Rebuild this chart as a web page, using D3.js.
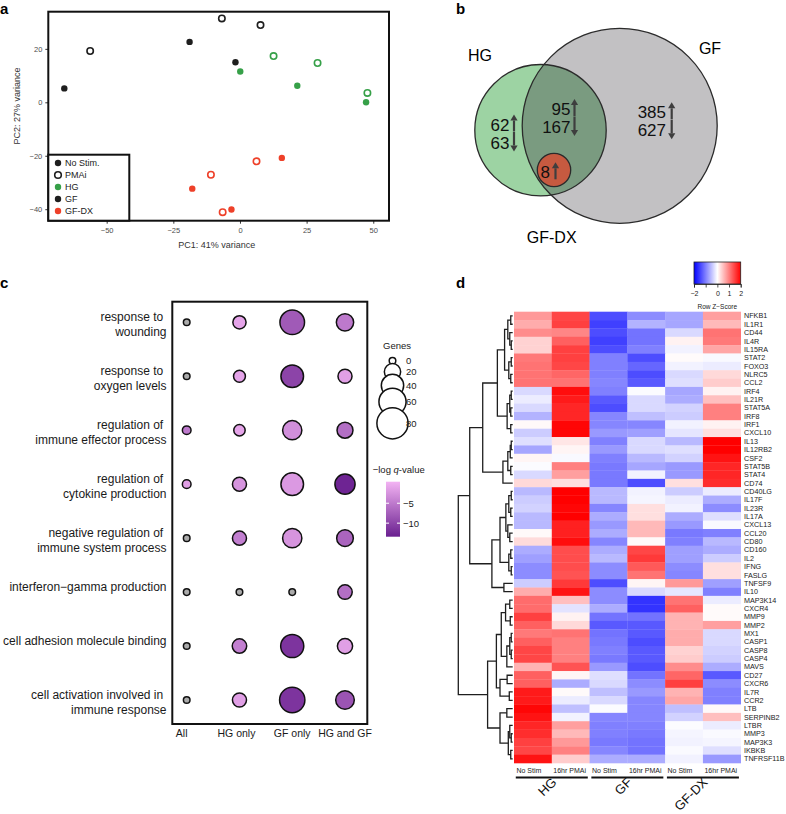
<!DOCTYPE html>
<html>
<head>
<meta charset="utf-8">
<script src="https://cdn.jsdelivr.net/npm/d3@7"></script>
<style>
body { margin: 0; background: #fff; }
svg { font-family: "Liberation Sans", Arial, Helvetica, sans-serif; }
</style>
</head>
<body>
<div id="fig"></div>
<script>
// ---------------- data ----------------
// a: PCA
var pcaCell = ["GF","GF","GF","GF","GF","GF","HG","HG","HG","HG","HG","HG","GF-DX","GF-DX","GF-DX","GF-DX","GF-DX","GF-DX"];
var pcaStim = ["No Stim","No Stim","No Stim","PMAi","PMAi","PMAi","No Stim","No Stim","No Stim","PMAi","PMAi","PMAi","No Stim","No Stim","No Stim","PMAi","PMAi","PMAi"];
var pcaPC1 = [-65.9, -18.9, -1.7, -56.2, -6.8, 7.7, 0.1, 21.5, 47.3, 12.6, 29.1, 47.8, 15.7, -17.9, -3.2, 6.2, -10.9, -6.5];
var pcaPC2 = [5.2, 22.6, 15.0, 19.2, 31.4, 28.9, 11.5, 6.2, 0.0, 17.3, 14.7, 3.5, -20.8, -32.3, -40.1, -22.1, -27.1, -41.1];
var pcaXTicks = [-50, -25, 0, 25, 50];
var pcaYTicks = [-40, -20, 0, 20];
var pcaLegend = ["No Stim.", "PMAi", "HG", "GF", "GF-DX"];

// b: Venn counts
var vennSets = ["HG", "GF", "GF-DX"];
var vennHGonly = [62, 63];
var vennBoth = [95, 167];
var vennGFonly = [385, 627];
var vennDX = [8];

// c: GO terms
var goTerms = ["response to \nwounding", "response to \noxygen levels", "regulation of \nimmune effector process",
  "regulation of \ncytokine production", "negative regulation of \nimmune system process",
  "interferon\u2212gamma production", "cell adhesion molecule binding", "cell activation involved in \nimmune response"];
var goCols = ["All", "HG only", "GF only", "HG and GF"];
var goGenes = [
  [0, 12, 49, 23],
  [0, 9, 41, 14],
  [3, 8, 29, 19],
  [3, 14, 41, 32],
  [0, 14, 29, 21],
  [0, 0, 0, 15],
  [0, 15, 43, 17],
  [0, 14, 52, 27]];
var goQ = [
  [null, -1, -8, -5],
  [null, -1, -10, -1.5],
  [-5, -1, -3, -6],
  [-1.5, -2.5, -2, -13],
  [null, -4.5, -2.5, -7],
  [null, null, null, -6],
  [null, -4.5, -11.5, -1.5],
  [null, -1.5, -11.5, -8.5]];
var goSizeTicks = [0, 20, 40, 60, 80];
var goColorTicks = [-5, -10];

// d: heatmap
var heatCols = ["No Stim", "16hr PMAi", "No Stim ", "16hr PMAi ", "No Stim  ", "16hr PMAi  "];
var heatGroups = ["HG", "GF", "GF-DX"];
var heatGenes = ["NFKB1","IL1R1","CD44","IL4R","IL15RA","STAT2","FOXO3","NLRC5","CCL2","IRF4","IL21R","STAT5A","IRF8","IRF1","CXCL10",
  "IL13","IL12RB2","CSF2","STAT5B","STAT4","CD74","CD40LG","IL17F","IL23R","IL17A","CXCL13","CCL20","CD80","CD160","IL2","IFNG","FASLG",
  "TNFSF9","IL10","MAP3K14","CXCR4","MMP9","MMP2","MX1","CASP1","CASP8","CASP4","MAVS","CD27","CXCR6","IL7R","CCR2","LTB","SERPINB2",
  "LTBR","MMP3","MAP3K3","IKBKB","TNFRSF11B"];
var heatZ = [
  [0.8, 1.45, -1.4, -0.9, -0.7, 0.75],
  [0.65, 1.5, -1.5, -0.6, -0.7, 0.55],
  [0.9, 0.95, -1.4, -1.1, -0.3, 1.1],
  [0.35, 1.25, -1.5, -1.1, 0.1, 1.05],
  [0.35, 1.5, -1.4, -1.0, -0.1, 0.7],
  [1.05, 1.5, -1.0, -1.4, 0.03, -0.05],
  [1.1, 1.45, -1.0, -1.2, -0.1, -0.15],
  [1.1, 1.2, -1.0, -1.4, -0.3, 0.3],
  [1.1, 1.1, -0.95, -1.3, -0.25, 0.4],
  [-0.3, 1.9, -1.0, -0.03, -0.7, 0.1],
  [-0.15, 1.8, -1.3, -0.3, -0.65, 0.5],
  [-0.3, 1.7, -1.4, -0.3, -0.35, 1.0],
  [-0.6, 1.7, -0.95, -0.5, -0.4, 1.0],
  [0.05, 1.95, -0.95, -0.95, -0.1, 0.1],
  [-0.4, 1.95, -0.8, -0.75, -0.2, 0.25],
  [-0.25, 0.2, -1.0, -0.3, -0.55, 2.0],
  [-0.7, 0.08, -0.8, -0.3, -0.25, 2.0],
  [0.08, -0.05, -1.0, -0.55, -0.35, 1.85],
  [-0.03, 1.0, -1.05, -0.7, -0.8, 1.7],
  [-0.3, 0.75, -1.05, -0.1, -0.8, 1.7],
  [0.3, 0.25, -1.05, -1.4, 0.25, 1.65],
  [-0.55, 2.0, -0.55, -0.1, -0.4, -0.15],
  [-0.4, 2.0, -0.55, -0.08, -0.15, -0.65],
  [-0.35, 1.95, -0.95, 0.25, -0.1, -0.9],
  [-0.55, 2.0, -0.65, 0.25, -0.65, -0.25],
  [-0.55, 1.75, -0.8, 0.55, -0.8, -0.05],
  [0.05, 1.75, -0.65, 0.55, -1.05, -1.0],
  [0.28, 1.9, -0.95, 0.05, -1.0, -0.55],
  [-0.65, 1.4, -0.65, 1.45, -0.75, -0.65],
  [-0.75, 1.4, -0.55, 1.55, -0.75, -0.4],
  [-0.9, 1.4, -0.9, 1.3, -0.9, 0.25],
  [-0.9, 1.35, -0.9, 1.1, -0.95, 0.25],
  [-0.4, 1.55, -1.4, 0.08, 0.8, -0.75],
  [0.65, 1.85, -0.9, -0.3, -0.2, -1.0],
  [1.15, 0.5, -0.9, -1.6, 1.1, -0.15],
  [1.15, -0.22, -0.65, -1.6, 1.25, 0.04],
  [1.5, 0.1, -1.1, -1.1, 0.6, 0.04],
  [1.25, 0.3, -1.3, -1.3, 0.6, 0.75],
  [1.05, 1.1, -1.1, -1.3, 0.65, -0.3],
  [1.25, 1.0, -1.05, -1.4, 0.65, -0.3],
  [1.45, 1.0, -1.0, -1.3, 0.35, -0.35],
  [1.45, 1.0, -1.05, -1.3, 0.4, -0.4],
  [0.6, 1.35, -0.8, -1.4, 0.9, -0.65],
  [1.25, 0.08, -0.25, -1.1, 1.2, -1.3],
  [1.25, -0.65, -0.3, -0.9, 1.5, -0.9],
  [1.8, 0.04, -0.5, -0.8, 0.6, -1.0],
  [1.8, -0.15, -0.3, -0.95, 0.7, -1.0],
  [1.95, -0.5, -0.03, -0.95, -0.5, 0.05],
  [1.85, -0.1, -0.95, -0.95, -0.35, 0.5],
  [1.7, 0.75, -1.0, -1.0, -0.02, -0.15],
  [1.65, 0.55, -1.0, -1.05, -0.08, -0.04],
  [1.5, 0.8, -1.05, -1.1, -0.1, -0.08],
  [1.45, 1.0, -0.95, -1.1, -0.04, -0.25],
  [1.85, 0.4, -0.65, -0.65, -0.1, -0.8]];
// dendrogram: [height, left, right]
var dendroTree =
[55.7,
  [44,
    [30.7,
      [15.7,
        [8.3,
          [5, [2, "NFKB1", "IL1R1"], [3, "CD44", [1.5, "IL4R", "IL15RA"]]],
          [4, [1.5, "STAT2", "FOXO3"], [2, "NLRC5", "CCL2"]]],
        [5.7,
          [3, [1.5, "IRF4", "IL21R"], [2, "STAT5A", "IRF8"]],
          [2, "IRF1", "CXCL10"]]],
      [10,
        [5, [2.5, [1.5, "IL13", "IL12RB2"], "CSF2"], [2, "STAT5B", "STAT4"]],
        "CD74"]],
    [21.3,
      [13,
        [7, [4, [1.5, "CD40LG", "IL17F"], [2, "IL23R", "IL17A"]], [5, "CXCL13", [3, "CCL20", "CD80"]]],
        [4, [2, "CD160", "IL2"], [1.5, "IFNG", "FASLG"]]],
      [9, "TNFSF9", "IL10"]]],
  [25.7,
    [16.7,
      [11.7,
        [7.3, [3, "MAP3K14", "CXCR4"], [2.5, "MMP9", "MMP2"]],
        [6, [3, [1.5, "MX1", "CASP1"], [1.5, "CASP8", "CASP4"]], "MAVS"]],
      [13, [5.7, "CD27", "CXCR6"], [3.5, "IL7R", "CCR2"]]],
    [13,
      [6, "LTB", "SERPINB2"],
      [4.5, [3, "LTBR", [1.5, "MMP3", "MAP3K3"]], [2, "IKBKB", "TNFRSF11B"]]]]];
var zTicks = [-2, -1, 0, 1, 2];

// ---------------- drawing ----------------
var minus = function(d) { return d < 0 ? "\u2212" + Math.abs(d) : "" + d; };

var svg = d3.select("#fig").append("svg")
    .attr("width", 786).attr("height", 814);

// panel letters
[["a", 0, 14], ["b", 456, 14], ["c", 0, 288], ["d", 456, 288]].forEach(function(p) {
    svg.append("text").attr("x", p[1]).attr("y", p[2])
        .attr("font-size", "15px").attr("font-weight", "bold").text(p[0]);
});

// ===== a: PCA =====
var pca = {left: 48.3, right: 389, top: 11.7, bottom: 220.7};
var xPca = d3.scaleLinear().domain([-71.9, 55.9]).range([pca.left, pca.right]);
var yPca = d3.scaleLinear().domain([-44.3, 33.9]).range([pca.bottom, pca.top]);
var pcaColour = d3.scaleOrdinal().domain(["GF", "HG", "GF-DX"]).range(["#1e1e1e", "#36a048", "#ee4029"]);

var gA = svg.append("g");
var xAxA = gA.append("g").attr("transform", "translate(0," + pca.bottom + ")")
    .call(d3.axisBottom(xPca).tickValues(pcaXTicks).tickSize(3).tickFormat(minus));
var yAxA = gA.append("g").attr("transform", "translate(" + pca.left + ",0)")
    .call(d3.axisLeft(yPca).tickValues(pcaYTicks).tickSize(3).tickFormat(minus));
[xAxA, yAxA].forEach(function(ax) {
    ax.select(".domain").remove();
    ax.selectAll("line").attr("stroke", "#333");
    ax.selectAll("text").attr("font-size", "7.5px").attr("fill", "#4d4d4d")
        .attr("font-family", "Liberation Sans, Arial, sans-serif");
});
xAxA.selectAll("text").attr("dy", "0.9em");

gA.selectAll("circle.pt").data(pcaPC1).enter().append("circle")
    .attr("class", "pt")
    .attr("cx", function(d) { return xPca(d); })
    .attr("cy", function(d, i) { return yPca(pcaPC2[i]); })
    .attr("r", function(d, i) { return pcaStim[i] == "PMAi" ? 3.2 : 3.2; })
    .attr("fill", function(d, i) { return pcaStim[i] == "PMAi" ? "#fff" : pcaColour(pcaCell[i]); })
    .attr("stroke", function(d, i) { return pcaStim[i] == "PMAi" ? pcaColour(pcaCell[i]) : "none"; })
    .attr("stroke-width", 1.6);

gA.append("rect").attr("x", pca.left).attr("y", pca.top)
    .attr("width", pca.right - pca.left).attr("height", pca.bottom - pca.top)
    .attr("fill", "none").attr("stroke", "#111").attr("stroke-width", 2);

gA.append("text").attr("x", (pca.left + pca.right) / 2 - 2).attr("y", 248)
    .attr("text-anchor", "middle").attr("font-size", "9px").attr("fill", "#333")
    .text("PC1: 41% variance");
gA.append("text").attr("transform", "translate(20,106) rotate(-90)")
    .attr("text-anchor", "middle").attr("font-size", "9px").attr("fill", "#333")
    .text("PC2: 27% variance");

// legend
var legA = gA.append("g");
legA.append("rect").attr("x", pca.left).attr("y", 154.7).attr("width", 81).attr("height", 66)
    .attr("fill", "#fff").attr("stroke", "#111").attr("stroke-width", 2);
var legFill = ["#1e1e1e", "#fff", pcaColour("HG"), pcaColour("GF"), pcaColour("GF-DX")];
var legStroke = ["none", "#1e1e1e", "none", "none", "none"];
var legItem = legA.selectAll("g.li").data(pcaLegend).enter().append("g")
    .attr("transform", function(d, i) { return "translate(58," + (163 + i * 12) + ")"; });
legItem.append("circle")
    .attr("r", function(d, i) { return i == 1 ? 3.3 : 3.2; })
    .attr("fill", function(d, i) { return legFill[i]; })
    .attr("stroke", function(d, i) { return legStroke[i]; })
    .attr("stroke-width", 1.6);
legItem.append("text").attr("x", 7).attr("y", 3.2).attr("font-size", "9px").attr("fill", "#222")
    .text(function(d) { return d; });

// ===== b: Venn =====
var gB = svg.append("g");
var cGF = {x: 619.7, y: 125.8, r: 97.5};
var cHG = {x: 540.5, y: 130.2, r: 65.7};
var cDX = {x: 554, y: 170, r: 16.7};
var defs = svg.append("defs");
defs.append("clipPath").attr("id", "hgClip").append("circle")
    .attr("cx", cHG.x).attr("cy", cHG.y).attr("r", cHG.r);
gB.append("circle").attr("cx", cGF.x).attr("cy", cGF.y).attr("r", cGF.r).attr("fill", "#c2c1c3");
gB.append("circle").attr("cx", cHG.x).attr("cy", cHG.y).attr("r", cHG.r).attr("fill", "#9dd3a3");
gB.append("circle").attr("cx", cGF.x).attr("cy", cGF.y).attr("r", cGF.r).attr("fill", "#7a9b80")
    .attr("clip-path", "url(#hgClip)");
[cGF, cHG].forEach(function(c) {
    gB.append("circle").attr("cx", c.x).attr("cy", c.y).attr("r", c.r)
        .attr("fill", "none").attr("stroke", "#2b2b2b").attr("stroke-width", 1.3);
});
gB.append("circle").attr("cx", cDX.x).attr("cy", cDX.y).attr("r", cDX.r)
    .attr("fill", "#c65a40").attr("stroke", "#2b2b2b").attr("stroke-width", 1.3);

gB.append("text").attr("x", 480).attr("y", 60.5).attr("text-anchor", "middle").attr("font-size", "16px").text(vennSets[0]);
gB.append("text").attr("x", 710).attr("y", 53.5).attr("text-anchor", "middle").attr("font-size", "16px").text(vennSets[1]);
gB.append("text").attr("x", 551.7).attr("y", 243).attr("text-anchor", "middle").attr("font-size", "16px").text(vennSets[2]);

function arrow(g, x, yTop, yBot, up) {
    var tip = up ? yTop : yBot, hl = 6, hw = 3.6;
    var base = up ? tip + hl : tip - hl;
    g.append("line").attr("x1", x).attr("x2", x)
        .attr("y1", up ? base : yTop).attr("y2", up ? yBot : base)
        .attr("stroke", "#3e3e3e").attr("stroke-width", 2.2);
    g.append("path").attr("d", "M" + x + "," + tip + "L" + (x - hw) + "," + base + "L" + (x + hw) + "," + base + "Z")
        .attr("fill", "#3e3e3e");
}
function vennNumbers(vals, xEnd, baseline, arrowX) {
    vals.forEach(function(v, i) {
        var b = baseline + i * 18;
        gB.append("text").attr("x", xEnd).attr("y", b).attr("text-anchor", "end")
            .attr("font-size", "17px").attr("fill", "#111").text(v);
        if (i == 0) arrow(gB, arrowX, b - 16, b + 1, true);
        else arrow(gB, arrowX, b - 16.5, b + 3, false);
    });
}
vennNumbers(vennHGonly, 509.5, 130.5, 514);
vennNumbers(vennBoth, 570.5, 115, 574.5);
vennNumbers(vennGFonly, 666, 118.3, 671.7);
vennNumbers(vennDX, 550, 178.3, 555.5);

// ===== c: GO dot plot =====
var gC = svg.append("g");
var box = {left: 172.3, right: 367.3, top: 301.7, bottom: 724};
var xGo = d3.scalePoint().domain(goCols).range([186.7, 345]);
var yGo = d3.scalePoint().domain(goTerms).range([322.3, 700]);
var areaGo = d3.scaleLinear().domain([0, 80]).range([16, 266]);
var rGo = function(n) { return Math.sqrt(areaGo(n)) - 0.7; };
var colGo = d3.scaleLinear().domain([-13.4, 0.4]).range(["#6a2090", "#f3b3f3"]);

gC.append("rect").attr("x", box.left).attr("y", box.top)
    .attr("width", box.right - box.left).attr("height", box.bottom - box.top)
    .attr("fill", "none").attr("stroke", "#111").attr("stroke-width", 2);

goTerms.forEach(function(t, i) {
    var lines = t.split("\n");
    var txt = gC.append("text").attr("text-anchor", "end").attr("font-size", "12px")
        .attr("fill", "#1a1a1a").style("white-space", "pre");
    lines.forEach(function(l, j) {
        txt.append("tspan").attr("x", 166.5).attr("y", yGo(t) - 1.3 + j * 15).text(l);
    });
    goCols.forEach(function(c, k) {
        var q = goQ[i][k];
        gC.append("circle").attr("cx", xGo(c)).attr("cy", yGo(t))
            .attr("r", rGo(goGenes[i][k]))
            .attr("fill", q === null ? "#ababab" : colGo(q))
            .attr("stroke", "#111").attr("stroke-width", 1.5);
    });
});
goCols.forEach(function(c, k) {
    gC.append("text").attr("x", xGo(c) + (k == 0 ? -5 : k == 1 ? -3 : 0)).attr("y", 737)
        .attr("text-anchor", "middle").attr("font-size", "10.5px").attr("fill", "#1a1a1a").text(c);
});

// size legend
gC.append("text").attr("x", 383).attr("y", 349).attr("font-size", "9.5px").attr("fill", "#1a1a1a").text("Genes");
var legSizeY = [360.7, 371.7, 385.5, 401.7, 423.3];
goSizeTicks.forEach(function(n, i) {
    gC.append("circle").attr("cx", 392.5).attr("cy", legSizeY[i]).attr("r", rGo(n))
        .attr("fill", "#fff").attr("stroke", "#111").attr("stroke-width", 1.5);
});
goSizeTicks.forEach(function(n, i) {
    gC.append("text").attr("x", 406).attr("y", legSizeY[i] + 3.4).attr("font-size", "9.5px")
        .attr("fill", "#1a1a1a").text(n);
});

// colour legend
var qt = gC.append("text").attr("x", 372.7).attr("y", 473).attr("font-size", "9.5px").attr("fill", "#1a1a1a");
qt.append("tspan").text("\u2212log ");
qt.append("tspan").attr("font-style", "italic").text("q");
qt.append("tspan").text("-value");
var yQ = d3.scaleLinear().domain([0.4, -13.4]).range([481.7, 536.7]);
var qGrad = defs.append("linearGradient").attr("id", "qGrad").attr("x1", 0).attr("x2", 0).attr("y1", 0).attr("y2", 1);
qGrad.append("stop").attr("offset", 0).attr("stop-color", colGo(0.4));
qGrad.append("stop").attr("offset", 1).attr("stop-color", colGo(-13.4));
gC.append("rect").attr("x", 386).attr("y", yQ(0.4)).attr("width", 14).attr("height", yQ(-13.4) - yQ(0.4))
    .attr("fill", "url(#qGrad)");
goColorTicks.forEach(function(v) {
    gC.append("line").attr("x1", 386).attr("x2", 389).attr("y1", yQ(v)).attr("y2", yQ(v)).attr("stroke", "#fff");
    gC.append("line").attr("x1", 397).attr("x2", 400).attr("y1", yQ(v)).attr("y2", yQ(v)).attr("stroke", "#fff");
    gC.append("text").attr("x", 403).attr("y", yQ(v) + 3.4).attr("font-size", "9.5px")
        .attr("fill", "#1a1a1a").text(minus(v));
});

// ===== d: heatmap =====
var gD = svg.append("g");
var xHeat = d3.scaleBand().domain(heatCols).range([514, 740.7]);
var yHeat = d3.scaleBand().domain(heatGenes).range([311.7, 763]);
var zColour = d3.scaleLinear().domain([-2, 0, 2]).range(["#0000ff", "#ffffff", "#ff0000"]);

heatGenes.forEach(function(g, i) {
    gD.selectAll(null).data(heatZ[i]).enter().append("rect")
        .attr("x", function(d, j) { return xHeat(heatCols[j]); })
        .attr("y", yHeat(g))
        .attr("width", xHeat.bandwidth() + 0.3)
        .attr("height", yHeat.bandwidth() + 0.3)
        .attr("fill", function(d) { return zColour(d); });
    gD.append("text").attr("x", 744).attr("y", yHeat(g) + yHeat.bandwidth() / 2 + 2.6)
        .attr("font-size", "7.2px").attr("fill", "#222").text(g);
});

// dendrogram
var xDen = d3.scaleLinear().domain([0, 55.7]).range([512.7, 458.3]);
var denG = gD.append("g").attr("fill", "none").attr("stroke", "#1e1e1e").attr("stroke-width", 1.3);
function drawNode(n) {
    if (typeof n === "string") return {y: yHeat(n) + yHeat.bandwidth() / 2, h: 0};
    var a = drawNode(n[1]), b = drawNode(n[2]);
    var x = xDen(n[0]);
    denG.append("path").attr("d", "M" + xDen(a.h) + "," + a.y + "H" + x + "V" + b.y + "H" + xDen(b.h));
    return {y: (a.y + b.y) / 2, h: n[0]};
}
drawNode(dendroTree);

// column labels and groups
heatCols.forEach(function(c, j) {
    gD.append("text").attr("x", xHeat(c) + xHeat.bandwidth() / 2 - (j % 2 == 0 ? 4 : 1)).attr("y", 772.5)
        .attr("text-anchor", "middle").attr("font-size", "7px").attr("fill", "#222").text(c.trim());
});
heatGroups.forEach(function(g, k) {
    var cx = xHeat(heatCols[2 * k]) + xHeat.bandwidth();
    gD.append("line").attr("x1", cx - 36).attr("x2", cx + 36).attr("y1", 777.5).attr("y2", 777.5)
        .attr("stroke", "#111").attr("stroke-width", 2);
    gD.append("text").attr("transform", "translate(" + (cx + 5.5) + ",783) rotate(-45)")
        .attr("text-anchor", "end").attr("font-size", "13px").attr("fill", "#111").text(g);
});

// colour key
var xKey = d3.scaleLinear().domain([-2, 2]).range([694, 740.7]);
var zGrad = defs.append("linearGradient").attr("id", "zGrad");
zTicks.forEach(function(t) {
    zGrad.append("stop").attr("offset", (t + 2) / 4).attr("stop-color", zColour(t));
});
gD.append("rect").attr("x", xKey(-2)).attr("y", 262).attr("width", xKey(2) - xKey(-2)).attr("height", 22)
    .attr("fill", "url(#zGrad)").attr("stroke", "#222").attr("stroke-width", 0.8);
var keyAx = gD.append("g").attr("transform", "translate(0,284)")
    .call(d3.axisBottom(xKey).tickValues(zTicks).tickSize(3.5)
        .tickFormat(function(d) { return d == -1 ? "" : minus(d); }));
keyAx.select(".domain").attr("stroke", "#222").attr("stroke-width", 0.8);
keyAx.selectAll("line").attr("stroke", "#222").attr("stroke-width", 0.8);
keyAx.selectAll("text").attr("font-size", "7px").attr("fill", "#222").attr("dy", "0.8em")
    .attr("font-family", "Liberation Sans, Arial, sans-serif");
gD.append("text").attr("x", 717.3).attr("y", 309).attr("text-anchor", "middle")
    .attr("font-size", "6.5px").attr("fill", "#222").text("Row Z\u2212Score");
</script>
</body>
</html>
